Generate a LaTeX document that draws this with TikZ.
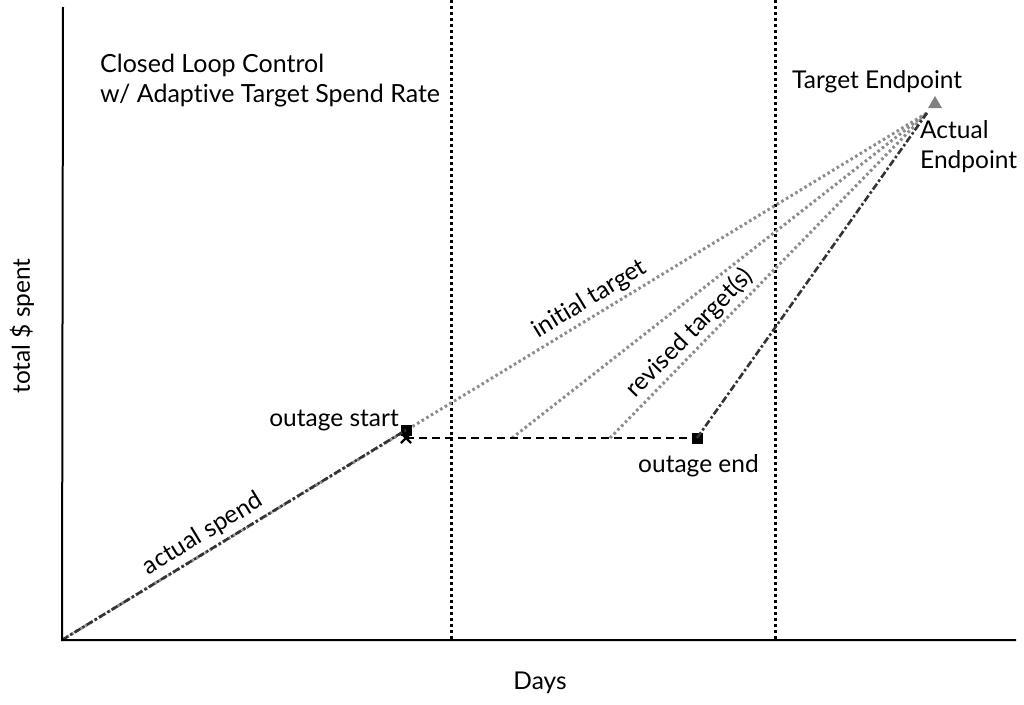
\documentclass[tikz,border=0pt]{standalone}
\usepackage{fontspec}
\setmainfont{Lato}[Ligatures=NoCommon]
\usetikzlibrary{shapes.geometric,shapes.misc}
\begin{document}
\begin{tikzpicture}[x=1pt,y=-1pt,
  lbl/.style={font=\fontsize{24.5}{30}\selectfont, inner sep=0pt, text=black},
  ttl/.style={font=\fontsize{25}{30}\selectfont, inner sep=0pt, text=black},
  axis/.style={line width=2pt, black},
  divider/.style={line width=3pt, black, dash pattern=on 3pt off 3pt},
  targetline/.style={line width=3pt, gray!90, dash pattern=on 2.6pt off 2.8pt},
  actualline/.style={line width=2.6pt, black!80, dash pattern=on 7pt off 2.5pt on 2.5pt off 2.5pt},
  outage/.style={line width=2.6pt, black, dash pattern=on 8pt off 5pt},
  sq/.style={fill=black, minimum size=11pt, inner sep=0pt},
  xmark/.style={draw=black, line width=2.2pt, cross out, minimum size=8pt, inner sep=0pt},
  tri/.style={fill=gray, isosceles triangle, isosceles triangle apex angle=60, shape border rotate=90, minimum height=12pt, inner sep=0pt}
]
\useasboundingbox (0,0) rectangle (1024,704);
% key points
\coordinate (O) at (62,640);
\coordinate (T) at (927,113);
\coordinate (R1) at (512,438);
\coordinate (R2) at (610,438);
\coordinate (Ytop) at (63,7);
\coordinate (Xend) at (1016,640);
\coordinate (D1top) at (451,0);
\coordinate (D1bot) at (451,640);
\coordinate (D2top) at (775,0);
\coordinate (D2bot) at (775,640);
% dividers
\draw[divider] (D1top) -- (D1bot);
\draw[divider] (D2top) -- (D2bot);
% targets
\draw[targetline] (O) -- (T);
\draw[targetline] (R1) -- (T);
\draw[targetline] (R2) -- (T);
% markers
\node[xmark] (X) at (406,438) {};
\node[sq] (OS) at (406,430) {};
\node[sq] (OE) at (697,438) {};
\node[tri] (TE) at (935,104) {};
% outage
\draw[outage] (X.center) -- (OE.center);
% actual spend
\draw[actualline] (O) -- (OS.center);
\draw[actualline] (OE.center) -- (T);
% axes
\draw[axis] (Ytop) -- (O) -- (Xend);
% labels
\node[ttl, anchor=west, align=left] (title) at (100,81) {Closed Loop Control\\w/ Adaptive Target Spend Rate};
\node[lbl, anchor=west] (tep) at (792,82) {Target Endpoint};
\node[lbl, anchor=west, align=left] (aep) at (920,147) {Actual\\Endpoint};
\node[lbl, rotate=90] (ylab) at (22,326) {total \$ spent};
\node[lbl] (xlab) at (540,683) {Days};
\node[lbl, anchor=east] (ostart) at (399,421) {outage start};
\node[lbl, anchor=west] (oend) at (638,466) {outage end};
\node[lbl, rotate=31.3] (itl) at (590,299) {initial target};
\node[lbl, rotate=45.7] (rtl) at (690,333) {revised target(s)};
\node[lbl, rotate=31.3] (asl) at (203,534) {actual spend};
\end{tikzpicture}
\end{document}
